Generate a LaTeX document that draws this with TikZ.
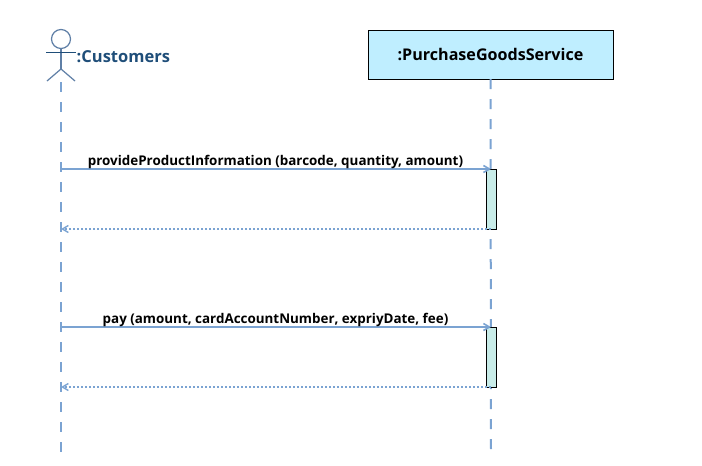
\documentclass[tikz,border=0pt]{standalone}
\usepackage{fontspec}
\setmainfont{Open Sans}
\usetikzlibrary{arrows.meta}
\definecolor{lifeblue}{HTML}{7BA3D2}
\definecolor{actorc}{HTML}{5F7FA6}
\definecolor{titlec}{HTML}{1F4E79}
\definecolor{boxfill}{HTML}{BFEEFF}
\definecolor{actfill}{HTML}{C8ECE8}
\tikzset{
  x=1pt,y=-1pt,
  lifeline/.style={draw=lifeblue,line width=2pt,dash pattern=on 10pt off 10pt},
  actbox/.style={draw=black,fill=actfill,line width=0.9pt,minimum width=10pt,inner sep=0pt,outer sep=0pt},
  msg/.style={draw=lifeblue,line width=1.9pt,-{Straight Barb[length=6pt,width=7pt,line width=1.6pt]}},
  reply/.style={draw=lifeblue,line width=1.8pt,dash pattern=on 2pt off 2pt,-{Straight Barb[length=6pt,width=7pt,line width=1.4pt]}},
  msglabel/.style={font=\fontsize{13.4pt}{15pt}\selectfont\bfseries,text=black,inner sep=0pt},
  actorline/.style={draw=actorc,line width=1.2pt},
}
\begin{document}
\begin{tikzpicture}
\useasboundingbox (0,0) rectangle (702,466);
% service box
\node[draw=black,fill=boxfill,line width=1pt,minimum width=245pt,minimum height=49pt,inner sep=0pt,outer sep=0pt,
      font=\fontsize{16.1pt}{18pt}\selectfont\bfseries] (svc) at (490.5,54.5) {:PurchaseGoodsService};
% actor
\node[draw=actorc,line width=1.2pt,circle,minimum size=19pt,inner sep=0pt,outer sep=0pt] (head) at (61,39) {};
\coordinate (hip) at (61,69);
\coordinate (armL) at (46,52);
\coordinate (armR) at (76,52);
\coordinate (footL) at (47,81);
\coordinate (footR) at (75,81);
\draw[draw=actorc,line width=1.8pt] (head.south) -- (hip);
\draw[draw=titlec,line width=1pt] (armL) -- (armR);
\draw[actorline] (footL) -- (hip) -- (footR);
\node[anchor=base west,inner sep=0pt,text=titlec,font=\fontsize{16.5pt}{18pt}\selectfont\bfseries] (cust) at (76.5,62) {:Customers};
% lifelines
\coordinate (custTop) at (61,82);
\coordinate (custEnd) at (61,452);
\coordinate (svcEnd) at (491,452);
\draw[lifeline] (custTop) -- (custEnd);
\draw[lifeline] (svc.south) -- (svcEnd);
% activations
\node[actbox,anchor=north,minimum height=60pt] (act1) at (491,169) {};
\node[actbox,anchor=north,minimum height=60pt] (act2) at (491,327) {};
% endpoints on customer lifeline
\coordinate (c1) at (61,169);
\coordinate (c2) at (61,229);
\coordinate (c3) at (61,327);
\coordinate (c4) at (61,387);
% messages
\draw[msg] (c1) -- (act1.north);
\draw[reply] (act1.south) -- (c2);
\draw[msg] (c3) -- (act2.north);
\draw[reply] (act2.south) -- (c4);
\node[msglabel,anchor=base] (m1) at (275.5,165) {provideProductInformation (barcode, quantity, amount)};
\node[msglabel,anchor=base] (m2) at (275.5,323) {pay (amount, cardAccountNumber, expriyDate, fee)};
\end{tikzpicture}
\end{document}
